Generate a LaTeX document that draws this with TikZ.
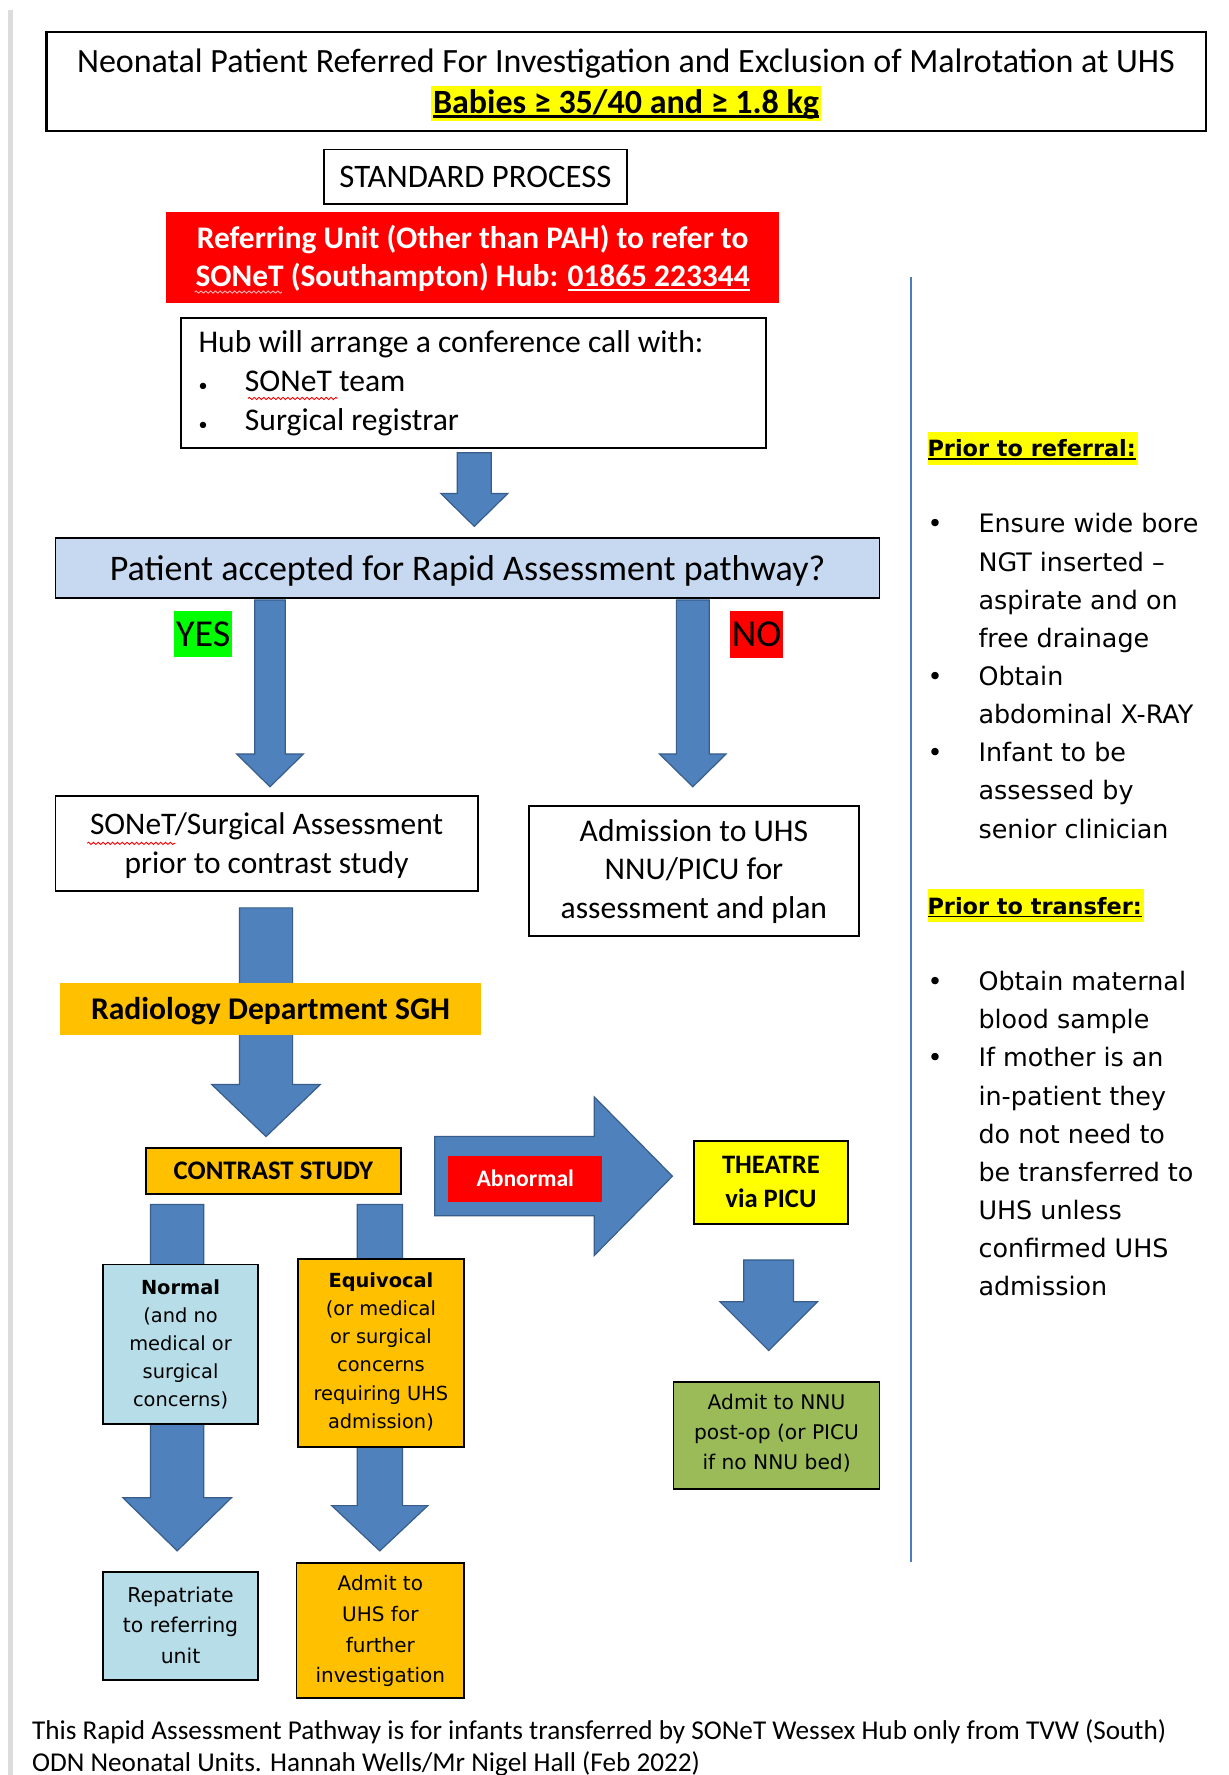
\documentclass[tikz,border=0pt]{standalone}
\usepackage{fontspec}
\setmainfont{Carlito}
\newfontfamily\verd{DejaVu Sans}
\usetikzlibrary{fit,calc,decorations.pathmorphing}
\pgfdeclarelayer{bg}
\pgfsetlayers{bg,main}
\definecolor{arrowblue}{HTML}{4F81BD}
\definecolor{arrowedge}{HTML}{385D8A}
\definecolor{orangeb}{HTML}{FFC000}
\definecolor{lightblueb}{HTML}{B7DEE8}
\definecolor{qblue}{HTML}{C6D9F1}
\definecolor{greenb}{HTML}{9BBB59}
\definecolor{hlyellow}{HTML}{FFFF00}
\definecolor{redb}{HTML}{FF0000}
\definecolor{greenlab}{HTML}{00FF00}
\definecolor{vline}{HTML}{4A7EBB}
\definecolor{leftgray}{HTML}{DCDCDC}
\newcommand\fs[2]{\fontsize{#1}{#2}\selectfont}
\newcommand\myul[1]{\setbox0\hbox{#1}\rlap{\rule[-0.13em]{\wd0}{0.065em}}\box0}
\newcommand\hlbox[3]{{\setlength\fboxsep{0pt}\colorbox{hlyellow}{\rule[#1]{0pt}{#2}#3}}}
\newcommand\bul{\makebox[25.5pt][l]{•}}
\newcommand\ind{\hspace*{25.5pt}}
\newcommand\hbul{\makebox[23.2pt][l]{\small•}}
\newcommand\hlhead[1]{\hlbox{-3.96pt}{16.4pt}{\fs{11.2}{19.07}\bfseries\myul{#1}\kern1pt}}
\newcommand\dnarrow[5]{\draw[blockarrow] ($(#1)+(-#3,0)$) -- ($(#2)+(-#3,-#5)$) -- ($(#2)+(-#4,-#5)$) -- (#2) -- ($(#2)+(#4,-#5)$) -- ($(#2)+(#3,-#5)$) -- ($(#1)+(#3,0)$) -- cycle;}
\newcommand\rtarrow[5]{\draw[blockarrow] ($(#1)+(0,-#3)$) -- ($(#2)+(-#5,-#3)$) -- ($(#2)+(-#5,-#4)$) -- (#2) -- ($(#2)+(-#5,#4)$) -- ($(#2)+(-#5,#3)$) -- ($(#1)+(0,#3)$) -- cycle;}
\begin{document}
\begin{tikzpicture}[x=0.5659pt,y=-0.5659pt,
  box/.style={draw=black,line width=0.9pt,inner sep=0pt},
  fillbox/.style={inner sep=0pt},
  txt/.style={anchor=north,inner sep=0pt,align=center},
  blockarrow/.style={fill=arrowblue,draw=arrowedge,line width=0.6pt,line join=miter},
  wavy/.style={decorate,decoration={snake,amplitude=0.55pt,segment length=2.4pt},line width=0.45pt}]
\useasboundingbox (0,0) rectangle (1085,1568);
\draw[leftgray,line width=2.5pt] (9,9) -- (9,1568);
\draw[vline,line width=0.9pt] (805,245) -- (805,1380);

% boxes
\node[box,line width=1.1pt,fit={(41,28) (1065,116)}] (title) {};
\node[box,fit={(286,132) (554,180)}] (std) {};
\node[fillbox,fill=redb,fit={(147,187) (688,268)}] (refer) {};
\node[box,fit={(160,281) (677,396)}] (hub) {};
\node[box,fill=qblue,fit={(49,475) (777,528)}] (q) {};
\node[fillbox,fill=greenlab,fit={(154,540) (205,580)}] (yes) {};
\node[fillbox,fill=redb,fit={(645,540) (692,581)}] (no) {};
\node[box,fit={(49,703) (422,787)}] (sonet) {};
\node[box,fit={(467,712) (759,827)}] (adm) {};
\node[fillbox,fill=orangeb,fit={(53,868) (425,914)}] (rad) {};
\node[box,fill=orangeb,fit={(129,1014) (354,1055)}] (contrast) {};
\node[box,fill=hlyellow,fit={(613,1008) (749,1081)}] (theatre) {};
\node[fillbox,fill=redb,fit={(396,1021) (532,1062)}] (abn) {};
\node[box,fill=greenb,fit={(595,1221) (777,1315)}] (nnu) {};
\node[box,fill=lightblueb,fit={(91,1117) (228,1258)}] (normal) {};
\node[box,fill=orangeb,fit={(263,1112) (410,1278)}] (equiv) {};
\node[box,fill=lightblueb,fit={(91,1389) (228,1484)}] (repat) {};
\node[box,fill=orangeb,fit={(262,1381) (410,1500)}] (admuhs) {};

% texts
\node[txt,font=\fs{17}{20.4}] (titletext) at (553,38.3)
  {\strut Neonatal Patient Referred For Investigation and Exclusion of Malrotation at UHS\\
   \hlbox{-3.7pt}{17.5pt}{\kern1pt\bfseries\myul{Babies ≥ 35/40 and ≥ 1.8 kg}\kern1pt}};
\node[txt,font=\fs{16.4}{19.2}] (stdtext) at (420,141.2) {\strut STANDARD PROCESS};
\node[txt,text=white,font=\bfseries\fs{15.7}{19.2}] (refertext) at (417.5,195.2)
  {\strut Referring Unit (Other than PAH) to refer to\\ SONeT (Southampton) Hub: \myul{01865 223344}};
\node[anchor=north west,inner sep=0pt,align=left,font=\fs{15.8}{19.5}] (hubtext) at (175,287)
  {\strut Hub will arrange a conference call with:\\ \hbul SONeT team\\ \hbul Surgical registrar};
\node[txt,font=\fs{18}{22}] (qtext) at (413,485) {\strut Patient accepted for Rapid Assessment pathway?};
\node[txt,font=\fs{19}{22}] (yestext) at (179.5,543.5) {\strut YES};
\node[txt,font=\fs{19}{22}] (notext) at (668.5,543.5) {\strut NO};
\node[txt,font=\fs{15.7}{19.2}] (sonettext) at (235.5,713.2) {\strut SONeT/Surgical Assessment\\prior to contrast study};
\node[txt,font=\fs{15.8}{19.2}] (admtext) at (613,719.2) {\strut Admission to UHS\\NNU/PICU for\\assessment and plan};
\node[txt,font=\bfseries\fs{15.8}{19.2}] (radtext) at (239,876.2) {\strut Radiology Department SGH};
\node[txt,font=\bfseries\fs{13.4}{16}] (contrasttext) at (241.5,1021.8) {\strut CONTRAST STUDY};
\node[txt,font=\bfseries\fs{13.3}{17}] (theatretext) at (681,1015.5) {\strut THEATRE\\via PICU};
\node[txt,font=\verd\fs{10.1}{15}] (nnutext) at (686,1226.5) {\strut Admit to NNU\\post-op (or PICU\\if no NNU bed)};
\node[txt,font=\verd\fs{9.7}{14.1}] (normaltext) at (159.5,1125.4) {\strut\textbf{Normal}\\(and no\\medical or\\surgical\\concerns)};
\node[txt,font=\verd\fs{9.7}{14.1}] (equivtext) at (336.5,1119.4) {\strut\textbf{Equivocal}\\(or medical\\or surgical\\concerns\\requiring UHS\\admission)};
\node[txt,font=\verd\fs{10.2}{15.3}] (repattext) at (159.5,1396.2) {\strut Repatriate\\to referring\\unit};
\node[txt,font=\verd\fs{10}{15.3}] (admuhstext) at (336,1386.1) {\strut Admit to\\UHS for\\further\\investigation};

% side notes
\node[anchor=north west,inner sep=0pt,align=left,font=\verd\fs{12.7}{19.07}] (side) at (819,379.4)
  {\strut\hlhead{Prior to referral:}\\[19.07pt]
   \bul Ensure wide bore\\ \ind NGT inserted –\\ \ind aspirate and on\\ \ind free drainage\\
   \bul Obtain\\ \ind abdominal X-RAY\\
   \bul Infant to be\\ \ind assessed by\\ \ind senior clinician\\[19.07pt]
   \hlhead{Prior to transfer:}\\[19.07pt]
   \bul Obtain maternal\\ \ind blood sample\\
   \bul If mother is an\\ \ind in-patient they\\ \ind do not need to\\ \ind be transferred to\\ \ind UHS unless\\ \ind confirmed UHS\\ \ind admission};

% footer
\node[anchor=north west,inner sep=0pt,align=left,font=\fs{13.6}{15.85}] (foot) at (28,1517)
  {\strut This Rapid Assessment Pathway is for infants transferred by SONeT Wessex Hub only from TVW (South)\\
   ODN Neonatal Units. Hannah Wells/Mr Nigel Hall (Feb 2022)};

% spelling marks
\draw[wavy,white!70!redb] (172,258) -- (249,258);
\draw[wavy,redb] (219,352) -- (298,352);
\draw[wavy,redb] (77,745) -- (155,745);

% arrow end points
\coordinate (a1s) at (419,400);   \coordinate (a1t) at (419,465);
\coordinate (ys) at (238.5,530);  \coordinate (yt) at (238.5,695);
\coordinate (ns) at (612,530);    \coordinate (nt) at (612,695);
\coordinate (rs) at (235,802);    \coordinate (rt) at (235,1004);
\coordinate (ms) at (156.5,1064); \coordinate (mt) at (156.5,1370);
\coordinate (es) at (335.5,1064); \coordinate (et) at (335.5,1370);
\coordinate (ts) at (679,1113);   \coordinate (tt) at (679,1193);
\coordinate (abs) at (384,1039);  \coordinate (abt) at (594,1039);

\begin{pgfonlayer}{bg}
\fill[white] (0,0) rectangle (1085,1568);
\dnarrow{a1s}{a1t}{15}{29.5}{29}
\dnarrow{ys}{yt}{13.5}{29.5}{29}
\dnarrow{ns}{nt}{14.5}{29.5}{29}
\dnarrow{rs}{rt}{23.5}{48}{46}
\dnarrow{ms}{mt}{23.5}{48}{47}
\dnarrow{es}{et}{20}{42.5}{40}
\dnarrow{ts}{tt}{22}{43}{43}
\rtarrow{abs}{abt}{35}{70}{69}
\end{pgfonlayer}
\node[txt,text=white,font=\bfseries\fs{11.8}{14}] (abntext) at (464,1030.4) {\strut Abnormal};
\end{tikzpicture}
\end{document}
